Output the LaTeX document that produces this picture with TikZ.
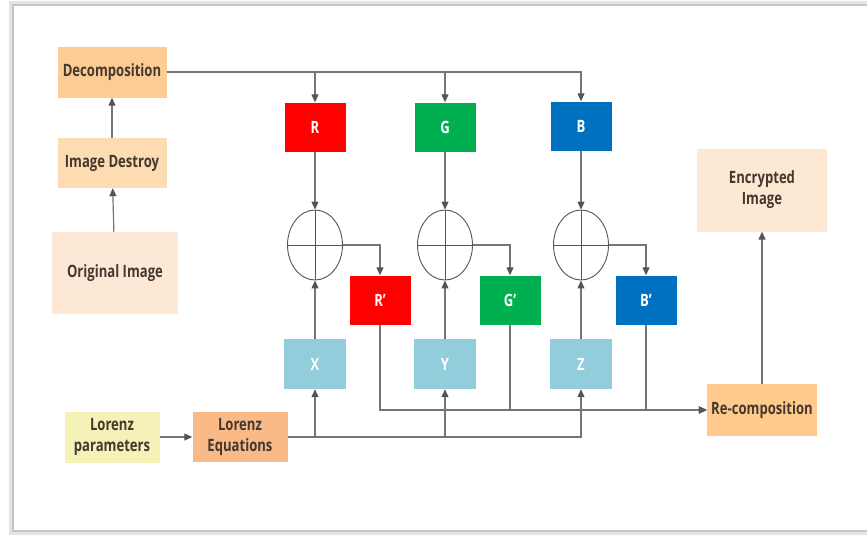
\documentclass[tikz,border=0pt]{standalone}
\usepackage{fontspec}
\setmainfont{Open Sans}[FakeStretch=0.77]
\usepackage{tikz}
\usetikzlibrary{arrows.meta}
\usetikzlibrary{shapes.geometric}

\definecolor{decompcol}{HTML}{FDCB94}
\definecolor{destroycol}{HTML}{FDDCB4}
\definecolor{origcol}{HTML}{FCE8D4}
\definecolor{paramcol}{HTML}{F4F2B6}
\definecolor{eqcol}{HTML}{F9BA88}
\definecolor{recompcol}{HTML}{FFCA8C}
\definecolor{enccol}{HTML}{FDE8D3}
\definecolor{redcol}{HTML}{FF0000}
\definecolor{greencol}{HTML}{00B050}
\definecolor{bluecol}{HTML}{0070C0}
\definecolor{chaoscol}{HTML}{92CDDC}
\definecolor{txtcol}{HTML}{45392F}
\definecolor{linecol}{HTML}{757575}
\definecolor{tipcol}{HTML}{555555}

\tikzset{
  block/.style={inner sep=0pt,align=center,text=txtcol,
    font=\bfseries\fontsize{17}{21}\selectfont},
  chan/.style={block,text=white,minimum width=61pt,minimum height=49pt},
  xorop/.style={ellipse,draw=tipcol,line width=0.9pt,minimum width=55pt,minimum height=70pt,inner sep=0pt},
  link/.style={draw=linecol,line width=1.2pt},
  flow/.style={link,-{Triangle[length=8pt,width=7pt,color=tipcol]}},
}

\begin{document}
\begin{tikzpicture}[x=1pt,y=-1pt]
  \useasboundingbox (0,0) rectangle (867,536);
  % frame
  \draw[gray!20,line width=4pt] (870,3) -- (11,3) -- (11,533) -- (870,533);
  \draw[gray!45,line width=1.5pt] (870,5) -- (13,5) -- (13,531) -- (870,531);

  % left column
  \node[block,fill=decompcol,minimum width=109pt,minimum height=51pt] (decomp) at (112,72) {Decomposition};
  \node[block,fill=destroycol,minimum width=109pt,minimum height=50pt] (destroy) at (112,163) {Image Destroy};
  \node[block,fill=origcol,minimum width=126pt,minimum height=82pt] (orig) at (115,273) {Original Image};
  \node[block,fill=paramcol,minimum width=95pt,minimum height=51pt] (param) at (112,437) {Lorenz\\parameters};
  \node[block,fill=eqcol,minimum width=95pt,minimum height=50pt] (lorenz) at (240,437) {Lorenz\\Equations};

  % channels
  \node[chan,fill=redcol] (r) at (315,127) {R};
  \node[chan,fill=greencol] (g) at (445,127) {G};
  \node[chan,fill=bluecol] (b) at (581,126) {B};

  \node[xorop] (xr) at (315,245) {};
  \node[xorop] (xg) at (445,245) {};
  \node[xorop] (xb) at (581,245) {};
  \foreach \c in {xr,xg,xb}{
    \draw[tipcol,line width=0.9pt] (\c.north) -- (\c.south);
    \draw[tipcol,line width=0.9pt] (\c.west) -- (\c.east);
  }

  \node[chan,fill=redcol] (rp) at (380,300) {R\char"27};
  \node[chan,fill=greencol] (gp) at (510,300) {G\char"27};
  \node[chan,fill=bluecol] (bp) at (646,300) {B\char"27};

  \node[chan,fill=chaoscol,minimum width=62pt,minimum height=50pt] (x) at (315,364) {X};
  \node[chan,fill=chaoscol,minimum width=62pt,minimum height=50pt] (y) at (445,364) {Y};
  \node[chan,fill=chaoscol,minimum width=62pt,minimum height=50pt] (z) at (581,364) {Z};

  % right column
  \node[block,fill=recompcol,minimum width=110pt,minimum height=52pt] (recomp) at (762,410) {Re-composition};
  \node[block,fill=enccol,minimum width=130pt,minimum height=83pt] (enc) at (762,190) {Encrypted\\Image};

  % connectors
  \draw[flow] (orig) -- (destroy);
  \draw[flow] (destroy) -- (decomp);
  \draw[flow] (decomp.east) -| (r.north);
  \draw[flow] (decomp.east) -| (g.north);
  \draw[flow] (decomp.east) -| (b.north);
  \draw[flow] (r) -- (xr);
  \draw[flow] (g) -- (xg);
  \draw[flow] (b) -- (xb);
  \draw[flow] (x) -- (xr);
  \draw[flow] (y) -- (xg);
  \draw[flow] (z) -- (xb);
  \draw[flow] (xr.east) -| (rp.north);
  \draw[flow] (xg.east) -| (gp.north);
  \draw[flow] (xb.east) -| (bp.north);
  \draw[flow] (param) -- (lorenz);
  \draw[flow] (lorenz.east) -| (x.south);
  \draw[flow] (lorenz.east) -| (y.south);
  \draw[flow] (lorenz.east) -| (z.south);
  \draw[flow] (rp.south) |- (recomp.west);
  \draw[flow] (gp.south) |- (recomp.west);
  \draw[flow] (bp.south) |- (recomp.west);
  \draw[flow] (recomp) -- (enc);
\end{tikzpicture}
\end{document}
